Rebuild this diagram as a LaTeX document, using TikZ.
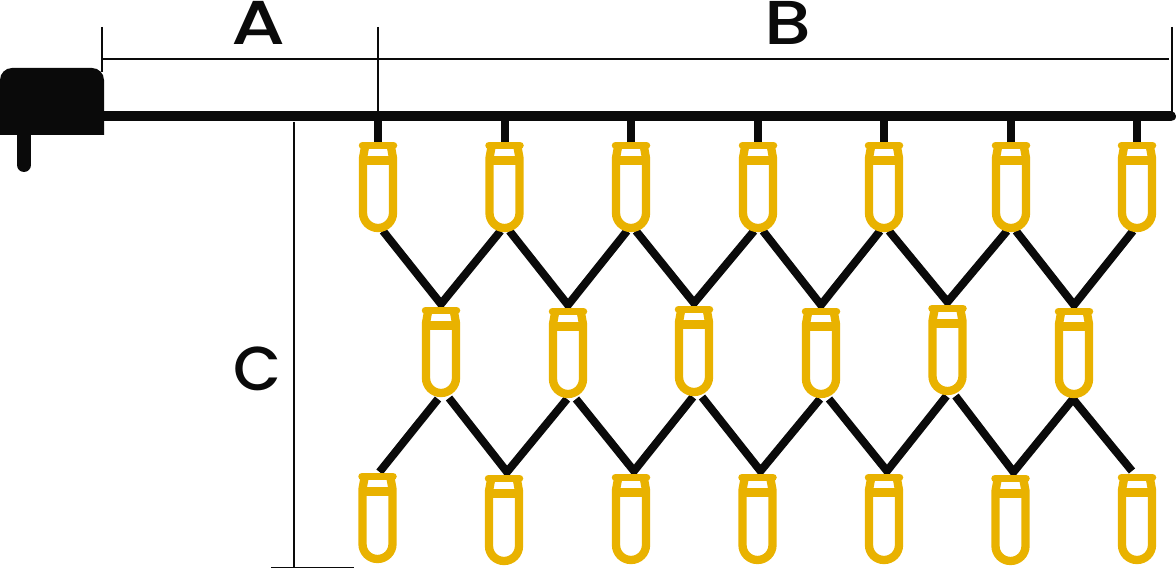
\documentclass[tikz,border=0pt]{standalone}
\usepackage{fontspec}
\setmainfont{Poppins}
\usetikzlibrary{calc}
\definecolor{gold}{HTML}{E9B200}
\definecolor{ink}{HTML}{0A0A0A}
\tikzset{
  bulbnode/.style={inner sep=0pt,outer sep=0pt,minimum width=38pt,minimum height=90pt,rectangle},
  bulbline/.style={draw=gold,line width=8.3pt,line join=round},
  wire/.style={draw=ink,line width=8pt,line join=miter},
  dim/.style={draw=ink,line width=1.8pt},
  label/.style={inner sep=0pt,outer sep=0pt,text=ink,font=\fontsize{62}{62}\selectfont\fontspec{Poppins Medium},transform shape},
  pics/bulbicon/.style={code={
    \draw[bulbline] (13,5) -- (15,16) -- (15,71) arc[start angle=0,end angle=180,x radius=15,y radius=15] -- (-15,16) -- (-13,5);
    \draw[bulbline] (-15,18.5) -- (15,18.5);
    \draw[bulbline,line width=7.5pt,line cap=round] (-15.5,3.5) -- (15.5,3.5);
  }}
}
\begin{document}
\begin{tikzpicture}[x=1pt,y=-1pt]
\useasboundingbox (0,0) rectangle (1176,569);
% bulb anchors
\foreach \n/\x/\y in {t1/378/142,t2/504.5/142,t3/631/142,t4/758/142,t5/884/142,t6/1011/142,t7/1137/142,
  m1/441/307,m2/568/308,m3/694/306,m4/821/308,m5/947.5/305,m6/1074/308,
  u1/377.5/473,u2/504/475,u3/631/474,u4/757.5/474,u5/884/474,u6/1010.5/475,u7/1137/474}
  \node[bulbnode] (\n) at (\x,\y+45) {};
% dimensions
\coordinate (a0) at (102,27); \coordinate (a1) at (378,27); \coordinate (a2) at (1172,27);
\coordinate (ah) at (102,59); \coordinate (ae) at (1169,59);
\coordinate (c0) at (294,122); \coordinate (c1) at (294,567.5);
\coordinate (c2) at (271,567.5); \coordinate (c3) at (354,567.5);
\draw[dim] (a0) -- (102,72);
\draw[dim] (a1) -- (378,114);
\draw[dim] (a2) -- (1172,114);
\draw[dim] (ah) -- (ae);
\draw[dim] (c0) -- (c1);
\draw[dim] (c2) -- (c3);
% plug and bus
\coordinate (bus0) at (100,116.5); \coordinate (bus1) at (1171,116.5);
\fill[ink] (0,135) -- (0,80) arc[start angle=180,end angle=90,x radius=12,y radius=-12] -- (92,68) arc[start angle=90,end angle=0,x radius=12,y radius=-12] -- (104,135) -- cycle;
\draw[ink,line width=14pt,line cap=round] (24,130) -- (24,165);
\draw[ink,line width=10pt,line cap=round] (bus0) -- (bus1);
% stems
\foreach \n in {t1,t2,t3,t4,t5,t6,t7}
  \draw[draw=ink,line width=8pt] (\n.north |- bus0) -- (\n.north);
% upper wires
\foreach \a/\m/\b in {t1/m1/t2,t2/m2/t3,t3/m3/t4,t4/m4/t5,t5/m5/t6,t6/m6/t7}
  \draw[wire] ($(\a.south)+(5,-1)$) -- ($(\m.north)+(0,-3)$) -- ($(\b.south)+(-4,-1)$);
% lower wires
\foreach \m/\u/\n in {m1/u2/m2,m2/u3/m3,m3/u4/m4,m4/u5/m5}
  \draw[wire] ($(\m.south)+(8,1)$) -- ($(\u.north)+(3,-3)$) -- ($(\n.south)+(-1,1)$);
\draw[wire] ($(m5.south)+(8,1)$) -- ($(u6.north)+(3,-3)$) -- ($(m6.south)+(-1,1)$) -- ($(u7.north)+(-5,-3)$);
\draw[wire] ($(m1.south)+(-3,2)$) -- ($(u1.north)+(2,-1)$);
% bulbs
\foreach \n in {t1,t2,t3,t4,t5,t6,t7,m1,m2,m3,m4,m5,m6,u1,u2,u3,u4,u5,u6,u7}
  \pic at (\n.north) {bulbicon};
% labels
\node[label,anchor=base,xscale=1.25] (la) at (259,45) {A};
\node[label,anchor=base,xscale=1.2] (lb) at (787.5,44.5) {B};
\node[label,anchor=base] (lc) at (257,390.5) {C};
\end{tikzpicture}
\end{document}
